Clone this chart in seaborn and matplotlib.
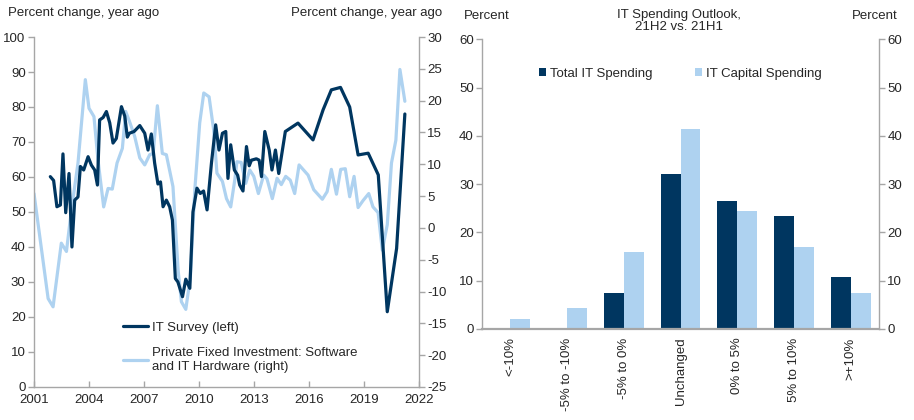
import numpy as np
import pandas as pd
import matplotlib
matplotlib.use('Agg')
import matplotlib.pyplot as plt
from matplotlib.lines import Line2D
from matplotlib.patches import Patch
import seaborn as sns

# IT survey (left axis)
it_years = [2001.89, 2002.07, 2002.25, 2002.44, 2002.58, 2002.73, 2002.91, 2003.07, 2003.22, 2003.40,
            2003.53, 2003.71, 2003.95, 2004.13, 2004.31, 2004.46, 2004.58, 2004.77, 2004.95, 2005.13,
            2005.31, 2005.49, 2005.77, 2005.95, 2006.09, 2006.20, 2006.46, 2006.77, 2007.04, 2007.22,
            2007.40, 2007.58, 2007.76, 2007.90, 2008.04, 2008.22, 2008.40, 2008.55, 2008.71, 2008.85,
            2009.10, 2009.28, 2009.50, 2009.67, 2009.89, 2010.07, 2010.25, 2010.44, 2010.68, 2010.91,
            2011.09, 2011.28, 2011.46, 2011.58, 2011.73, 2011.93, 2012.11, 2012.22, 2012.40, 2012.59,
            2012.74, 2012.86, 2013.13, 2013.28, 2013.41, 2013.59, 2013.83, 2013.98, 2014.17, 2014.35,
            2014.71, 2015.40, 2016.22, 2016.77, 2017.22, 2017.72, 2018.22, 2018.68, 2019.23, 2019.78,
            2020.27, 2020.78, 2021.23]
it_survey = [60.1, 59, 51.5, 52, 66.6, 49.8, 61, 40, 53.4, 54.3,
             63, 62, 65.8, 63.4, 62, 57.7, 76.3, 77, 78.7, 75.5,
             69.7, 71, 80.1, 77.4, 71.4, 72.5, 73, 74.7, 72.5, 67.7,
             72.3, 64, 58, 58.6, 51.5, 53.4, 51.5, 47.7, 31, 30,
             25.8, 30.8, 28.2, 50, 56.8, 55.3, 56, 50.6, 64, 74.9,
             67.7, 72.5, 73, 59.6, 69.2, 62, 60.5, 57.7, 56, 68.7,
             63.2, 64.8, 65.2, 64.8, 60.1, 73, 67.7, 62, 67.7, 61,
             73, 75.4, 70.6, 79.2, 84.9, 85.6, 80, 66.3, 66.8, 60.6,
             21.5, 39.6, 78]

# Private fixed investment, software and IT hardware (right axis)
pfi_years = [2001.00, 2001.77, 2002.04, 2002.49, 2002.77, 2003.04, 2003.40, 2003.80, 2004.00, 2004.27,
             2004.49, 2004.80, 2005.04, 2005.27, 2005.53, 2005.82, 2006.00, 2006.20, 2006.49, 2006.77,
             2007.04, 2007.31, 2007.50, 2007.73, 2008.00, 2008.22, 2008.58, 2008.86, 2009.04, 2009.28,
             2009.53, 2009.77, 2010.04, 2010.26, 2010.55, 2010.80, 2010.98, 2011.28, 2011.50, 2011.73,
             2011.95, 2012.07, 2012.30, 2012.55, 2012.77, 2012.99, 2013.24, 2013.53, 2013.71, 2014.00,
             2014.26, 2014.49, 2014.73, 2014.98, 2015.22, 2015.46, 2015.95, 2016.26, 2016.73, 2016.99,
             2017.22, 2017.50, 2017.73, 2017.98, 2018.22, 2018.46, 2018.68, 2018.95, 2019.26, 2019.49,
             2019.77, 2020.00, 2020.27, 2020.50, 2020.74, 2020.96, 2021.23]
pfi_growth = [5.4, -11.1, -12.4, -2.4, -3.7, 2.8, 10.2, 23.3, 18.8, 17.5,
              10.7, 3.3, 6.2, 6.1, 10.2, 12.5, 18.3, 16.8, 14.4, 11.0,
              9.9, 11.5, 11.7, 19.2, 11.7, 11.5, 6.5, -6.6, -11.6, -12.8,
              -7.7, 5.9, 16.5, 21.2, 20.6, 15.4, 8.6, 7.3, 4.6, 3.3,
              7.5, 10.4, 10.3, 7.0, 9.1, 8.1, 5.4, 8.3, 7.7, 4.6,
              7.8, 6.8, 8.1, 7.5, 5.4, 9.9, 8.3, 6.0, 4.5, 5.7,
              9.2, 5.3, 9.2, 9.3, 4.9, 8.1, 3.2, 4.3, 5.4, 3.3,
              2.4, -3.5, 0.5, 10.2, 13.8, 24.9, 19.9]

# IT spending outlook
categories = ['<-10%', '-5% to -10%', '-5% to 0%', 'Unchanged', '0% to 5%', '5% to 10%', '>+10%']
total_it = [0, 0, 7.5, 32, 26.5, 23.3, 10.7]
capital_it = [2.1, 4.3, 16, 41.5, 24.5, 17, 7.5]
series_names = ['Total IT Spending', 'IT Capital Spending']

dark = '#003660'
light = '#AED2F0'
grey = '#A6A6A6'

sns.set_style('white')
plt.rcParams['font.family'] = ['Liberation Sans', 'DejaVu Sans']
plt.rcParams['font.size'] = 9.5
plt.rcParams['axes.unicode_minus'] = False

fig = plt.figure(figsize=(9.14, 4.2), dpi=100)

# ---- left panel ----
ax1 = fig.add_axes([0.0372, 0.0786, 0.4212, 0.8333])
ax2 = ax1.twinx()

it_df = pd.DataFrame({'year': it_years, 'value': it_survey})
pfi_df = pd.DataFrame({'year': pfi_years, 'value': pfi_growth})

sns.lineplot(data=pfi_df, x='year', y='value', ax=ax2, color=light, lw=2.3, legend=False)
sns.lineplot(data=it_df, x='year', y='value', ax=ax1, color=dark, lw=2.3, legend=False)
# dark line drawn over the light one
ax1.set_zorder(ax2.get_zorder() + 1)
ax1.patch.set_visible(False)

ax1.set_xlim(2001, 2022)
ax1.set_ylim(0, 100)
ax2.set_ylim(-25, 30)
ax1.set_xticks(range(2001, 2023, 3))
ax1.set_yticks(range(0, 101, 10))
ax2.set_yticks(range(-25, 31, 5))
ax1.set_xlabel('')
ax1.set_ylabel('')
ax2.set_ylabel('')

for a in (ax1, ax2):
    for s in a.spines.values():
        s.set_color(grey)
        s.set_linewidth(1)
    a.spines['top'].set_visible(False)
ax1.spines['right'].set_visible(False)
ax2.spines['left'].set_visible(False)
ax2.spines['bottom'].set_visible(False)

ax1.tick_params(axis='y', direction='out', length=4, width=1, color=grey, pad=2, labelsize=9.5, left=True)
ax1.tick_params(axis='x', direction='in', length=4, width=1, color=grey, pad=5, labelsize=9.5, bottom=True)
ax2.tick_params(axis='y', direction='out', length=4, width=1, color=grey, pad=2, labelsize=9.5, right=True)

handles = [Line2D([], [], color=dark, lw=2.3), Line2D([], [], color=light, lw=2.3)]
labels = ['IT Survey (left)', 'Private Fixed Investment: Software\nand IT Hardware (right)']
ax1.legend(handles, labels, loc='upper left', bbox_to_anchor=(0.215, 0.205), frameon=False,
           handlelength=1.9, handletextpad=0.25, labelspacing=1.0, borderpad=0, fontsize=9.5)

fig.text(0.009, 0.968, 'Percent change, year ago', ha='left', va='center', fontsize=9.5)
fig.text(0.4836, 0.968, 'Percent change, year ago', ha='right', va='center', fontsize=9.5)

# ---- right panel ----
ax3 = fig.add_axes([0.5274, 0.2167, 0.4344, 0.6897])
bar_df = pd.DataFrame({
    'category': categories * 2,
    'series': [series_names[0]] * len(categories) + [series_names[1]] * len(categories),
    'value': total_it + capital_it,
})
sns.barplot(data=bar_df, x='category', y='value', hue='series', order=categories,
            hue_order=series_names, palette=[dark, light], width=0.7, saturation=1,
            ax=ax3, edgecolor='none', linewidth=0)
ax3.set_xlim(-0.5, len(categories) - 0.5)
ax3.set_ylim(0, 60)
ax3.set_yticks(range(0, 61, 10))
ax3.set_xlabel('')
ax3.set_ylabel('')
ax3.set_xticks(range(len(categories)))
ax3.set_xticklabels(categories, rotation=90, va='top', ha='center')
ax3.set_xticks(np.arange(-0.5, len(categories), 1), minor=True)
ax3.tick_params(axis='x', which='major', length=0, pad=6, labelsize=9.5)
ax3.tick_params(axis='x', which='minor', direction='out', length=5, width=1, color=grey)
ax3.tick_params(axis='y', direction='out', length=4, width=1, color=grey, pad=2, labelsize=9.5, left=True)

ax4 = ax3.twinx()
ax4.set_ylim(0, 60)
ax4.set_yticks(range(0, 61, 10))
ax4.tick_params(axis='y', direction='out', length=4, width=1, color=grey, pad=2, labelsize=9.5, right=True)

for a in (ax3, ax4):
    for s in a.spines.values():
        s.set_color(grey)
        s.set_linewidth(1)
    a.spines['top'].set_visible(False)
ax3.spines['right'].set_visible(False)
ax3.spines['bottom'].set_linewidth(1.6)
ax4.spines['left'].set_visible(False)
ax4.spines['bottom'].set_visible(False)

leg_handles = [Patch(facecolor=dark, edgecolor='none'), Patch(facecolor=light, edgecolor='none')]
ax3.legend(leg_handles, series_names, loc='center', bbox_to_anchor=(0.5, 0.88), ncol=2,
           frameon=False, handlelength=0.55, handleheight=0.55, handletextpad=0.3,
           columnspacing=3.2, fontsize=9.5)

fig.text(0.743, 0.95, 'IT Spending Outlook,\n21H2 vs. 21H1', ha='center', va='center',
         fontsize=9.5, linespacing=1.1)
fig.text(0.5075, 0.962, 'Percent', ha='left', va='center', fontsize=9.5)
fig.text(0.9825, 0.962, 'Percent', ha='right', va='center', fontsize=9.5)

fig.savefig('out.png', dpi=100)
